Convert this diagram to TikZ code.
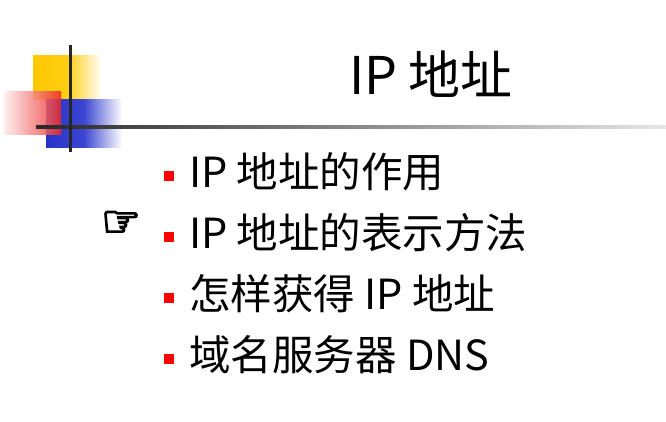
\documentclass[tikz,border=0pt]{standalone}
\usepackage{fontspec}
\setmainfont{Noto Sans CJK SC}
\newfontfamily\symf{DejaVu Sans}[FakeBold=4]
\tikzset{bul/.style={fill=red,minimum size=10pt,inner sep=0pt},
item/.style={anchor=west,font=\fontsize{41.5pt}{44pt}\selectfont,inner sep=0pt}}
\begin{document}
\begin{tikzpicture}[x=1pt,y=-1pt]
\useasboundingbox (0,0) rectangle (666,422);
\shade[left color={rgb,255:red,255;green,200;blue,0},right color=white,middle color={rgb,255:red,255;green,205;blue,20}] (33,56) rectangle (102,100);
\shade[left color={rgb,255:red,40;green,50;blue,200},right color=white,middle color={rgb,255:red,60;green,70;blue,210}] (46,100) rectangle (122,148);
\shade[left color={rgb,255:red,255;green,235;blue,235},right color={rgb,255:red,235;green,40;blue,40},opacity=0.85] (4,92) rectangle (61,135);
\shade[left color={rgb,255:red,40;green,40;blue,40},right color={rgb,255:red,230;green,230;blue,230}] (36,125.5) rectangle (666,128.5);
\fill[black!85] (68.5,45) rectangle (71.5,152);
\node[font=\fontsize{52pt}{56pt}\selectfont] (title) at (431,74) {IP 地址};
\foreach \n/\y/\t in {a/172/IP 地址的作用,b/233/IP 地址的表示方法,c/294/怎样获得 IP 地址,d/355/域名服务器 DNS}{
  \node[bul] (b\n) at (169,\y+4) {};
  \node[item] (t\n) at (189,\y) {\t};
}
\node[font=\symf\fontsize{44pt}{46pt}\selectfont] (hand) at (121,224) {☞};
\end{tikzpicture}
\end{document}
